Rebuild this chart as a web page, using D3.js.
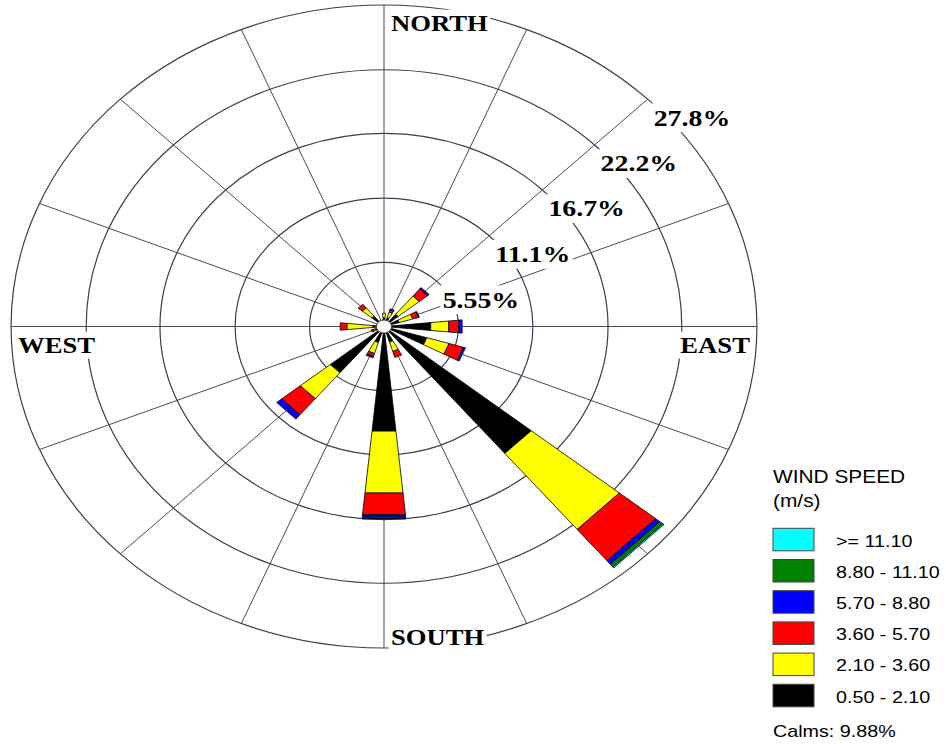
<!DOCTYPE html>
<html><head><meta charset="utf-8">
<script src="https://cdn.jsdelivr.net/npm/d3@7"></script>
<style>body{margin:0;background:#fff}svg{display:block}</style>
</head><body>
<svg id="c" width="946" height="744"></svg>
<script>
// ---- data ----
const directions = ["N","NNE","NE","ENE","E","ESE","SE","SSE","S","SSW","SW","WSW","W","WNW","NW","NNW"];
const speedClasses = ["0.50 - 2.10","2.10 - 3.60","3.60 - 5.70","5.70 - 8.80","8.80 - 11.10",">= 11.10"];
const speedColors = ["#000000","#ffff00","#ff0000","#0000ff","#008000","#00ffff"];
// percent frequency per direction for each speed class
const s050_210  = [0.75,0.80,1.37,1.18,3.50,3.34,14.20,1.40,9.09,1.44,5.18,0.70,0.84,0.40,1.16,0.40];
const s210_360  = [0.40,0.50,2.04,1.07,1.35,1.73, 8.50,0.85,5.38,1.00,2.90,0.15,1.94,0.00,0.94,0.00];
const s360_570  = [0.00,0.20,0.80,0.45,0.75,1.12, 3.50,0.54,1.88,0.26,1.79,0.15,0.50,0.00,0.39,0.00];
const s570_880  = [0.00,0.10,0.14,0.05,0.25,0.16, 0.40,0.00,0.22,0.13,0.48,0.00,0.00,0.00,0.00,0.00];
const s880_1110 = [0.00,0.00,0.00,0.00,0.00,0.00, 0.30,0.00,0.12,0.00,0.00,0.00,0.00,0.00,0.00,0.00];
const s1110     = [0.00,0.00,0.00,0.00,0.00,0.00, 0.10,0.00,0.03,0.00,0.00,0.00,0.00,0.00,0.00,0.00];
const ringTicks = [5.55, 11.1, 16.7, 22.2, 27.8];
const ringLabels = ["5.55%","11.1%","16.7%","22.2%","27.8%"];
const compassLabels = ["NORTH","EAST","SOUTH","WEST"];
const legendTitle = ["WIND SPEED","(m/s)"];
const calmsText = "Calms: 9.88%";

// ---- layout ----
const cx = 384, cy = 326.5, R = 321.5, sx = 1.16;
const series = [s050_210, s210_360, s360_570, s570_880, s880_1110, s1110];
const svg = d3.select("#c");
const r = d3.scaleLinear().domain([0, 27.8]).range([0, R]);
const angle = d3.scaleBand().domain(directions).range([0, 2*Math.PI]).align(0).paddingInner(0);
const step = 2*Math.PI/directions.length;
const halfW = step/4;

const g = svg.append("g").attr("transform", `translate(${cx},${cy}) scale(${sx},1)`);
const pt = (rad, a) => [rad*Math.sin(a), -rad*Math.cos(a)];

// grid rings
g.selectAll("circle.ring").data(ringTicks).join("circle")
  .attr("class","ring").attr("r", d => r(d))
  .attr("fill","none").attr("stroke","#3d3d4f").attr("stroke-width",1.2)
  .attr("vector-effect","non-scaling-stroke");
// spokes
g.selectAll("line.spoke").data(directions).join("line")
  .attr("class","spoke")
  .attr("x1",0).attr("y1",0)
  .attr("x2", d => pt(r(27.8), angle(d))[0])
  .attr("y2", d => pt(r(27.8), angle(d))[1])
  .attr("stroke","#4a4a5c").attr("stroke-width",1)
  .attr("vector-effect","non-scaling-stroke");

// petals
const segs = [];
directions.forEach((d, i) => {
  let cum = 0;
  series.forEach((s, k) => {
    const v = s[i];
    if (v > 0) segs.push({dir: d, k, r0: cum, r1: cum + v});
    cum += v;
  });
});
g.selectAll("path.petal").data(segs).join("path")
  .attr("class","petal")
  .attr("d", s => {
    const a = angle(s.dir);
    const p = [pt(r(s.r0), a-halfW), pt(r(s.r1), a-halfW), pt(r(s.r1), a+halfW), pt(r(s.r0), a+halfW)];
    return "M" + p.map(q => q.join(",")).join("L") + "Z";
  })
  .attr("fill", s => speedColors[s.k])
  .attr("stroke","#000").attr("stroke-width",0.8).attr("stroke-linejoin","miter")
  .attr("vector-effect","non-scaling-stroke");

// calm circle
g.append("circle").attr("r", 6.6).attr("fill","#fff").attr("stroke","#333")
  .attr("stroke-width",1).attr("vector-effect","non-scaling-stroke");

// text helper with white background
function label(txt, x, y, font, size, weight, anchor, bg) {
  const grp = svg.append("g").attr("transform", `translate(${x},${y}) scale(${sx},1)`);
  const rect = bg ? grp.append("rect").attr("fill","#fff") : null;
  const t = grp.append("text").text(txt)
    .attr("font-family", font).attr("font-size", size).attr("font-weight", weight)
    .attr("text-anchor", anchor).attr("fill","#000");
  if (bg) {
    const b = t.node().getBBox();
    rect.attr("x", b.x-2).attr("y", b.y-1).attr("width", b.width+4).attr("height", b.height+2);
  }
  return t;
}
const serif = "'Liberation Serif','Times New Roman',serif";
const sans = "'Liberation Sans',Arial,sans-serif";

// ring labels (placed along the 45° direction)
ringTicks.forEach((v, i) => {
  const p = pt(r(v), Math.PI/4);
  label(ringLabels[i], cx + p[0]*sx + 6, cy + p[1] + 26.5, serif, 24, "bold", "start", true);
});

// compass labels
const Rx = R*sx;
label(compassLabels[0], cx + 7, cy - R + 26, serif, 23, "bold", "start", true);
label(compassLabels[1], cx + Rx - 7, cy + 26.5, serif, 23, "bold", "end", true);
label(compassLabels[2], cx + 7, cy + R - 3, serif, 23, "bold", "start", true);
label(compassLabels[3], cx - Rx + 7, cy + 26.5, serif, 23, "bold", "start", true);

// legend
const lx = 773;
label(legendTitle[0], lx, 483, sans, 18, "normal", "start", false);
label(legendTitle[1], lx, 507, sans, 18, "normal", "start", false);
const order = d3.range(speedClasses.length).reverse();
order.forEach((k, j) => {
  const y0 = 528.3 + 31.2*j;
  svg.append("rect").attr("x", lx).attr("y", y0).attr("width", 41).attr("height", 22.5)
    .attr("fill", speedColors[k]).attr("stroke","#444").attr("stroke-width",1);
  label(speedClasses[k], 836, y0 + 18.3, sans, 17, "normal", "start", false);
});
label(calmsText, lx, 737, sans, 17, "normal", "start", false);
</script>
</body></html>
